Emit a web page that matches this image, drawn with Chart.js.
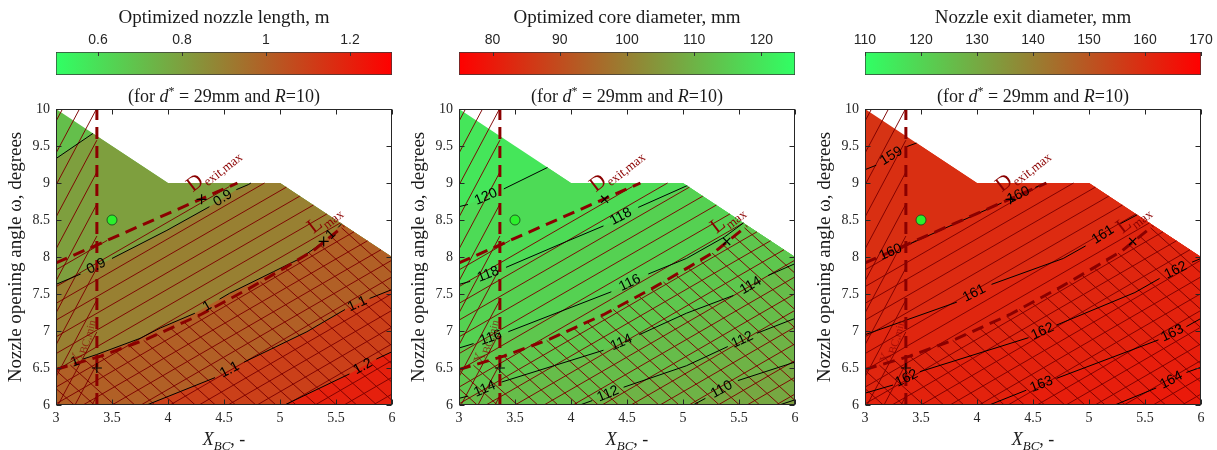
<!DOCTYPE html>
<html>
<head>
<meta charset="utf-8">
<script src="https://cdn.jsdelivr.net/npm/chart.js@4.4.1/dist/chart.umd.min.js"></script>
<style>
html,body{margin:0;padding:0;background:#fff;}
#page{position:relative;width:1217px;height:450px;overflow:hidden;}
#page canvas{position:absolute;}
.t{position:absolute;white-space:nowrap;color:#1a1a1a;font-family:"Liberation Serif",serif;text-align:center;font-size:18px;line-height:20px;}
</style>
</head>
<body>
<div id="page"></div>
<script>
// ================= DATA =================
const xTickValues = [3, 3.5, 4, 4.5, 5, 5.5, 6];
const yTickValues = [6, 6.5, 7, 7.5, 8, 8.5, 9, 9.5, 10];

// feasible design region (X_BC, omega)
const feasibleBoundary = [[3,6],[3,10],[4,9],[5,9],[6,8],[6,6]];
// constraint lines
const dExitMaxLine = [[3,7.92],[4.62,9.0]];
const lMaxLine = [[3,6.48],[3.4,6.66],[3.81,6.89],[4.29,7.22],[4.73,7.58],[5.06,7.87],[5.30,8.09],[5.57,8.42]];
const xbcMinLine = [[3.365,6],[3.365,10]];
// markers
const designPoint = [[3.5,8.5]];
const dExitOptimum = [[4.30,8.78]];
const lMaxOptimum = [[5.39,8.21]];
const xbcOptimum = [[3.365,6.5]];

// ---- panel 1: optimized nozzle length, m ----
const lengthTicks = [0.6, 0.8, 1, 1.2];
const lengthLevels = [0.8, 0.9, 1, 1.1, 1.2];
const length_c08 = [[3,9.33],[3.33,9.67]];
const length_c09 = [[3,7.63],[3.22,7.77],null,[3.50,7.98],[3.99,8.36],[4.37,8.68],null,[4.61,8.91],[4.72,8.98],[4.74,9.0]];
const length_c10 = [[3,6.49],[3.1,6.54],null,[3.24,6.62],[3.36,6.68],[3.75,6.90],[3.93,7.04],[4.24,7.24],null,[4.46,7.43],[4.55,7.51],[4.94,7.80],[5.18,7.98],[5.32,8.13],[5.39,8.21],null,[5.52,8.40],[5.55,8.45]];
const length_c11 = [[3.81,6.0],[4.42,6.37],null,[4.68,6.58],[5.24,6.99],[5.58,7.29],null,[5.80,7.44],[6,7.56]];
const length_c12 = [[5.04,6.0],[5.62,6.42],null,[5.86,6.62],[6,6.72]];

// ---- panel 2: optimized core diameter, mm ----
const coreTicks = [80, 90, 100, 110, 120];
const coreLevels = [120, 118, 116, 114, 112, 110, 108];
const core_c120 = [[3,8.68],[3.08,8.71],null,[3.40,8.92],[3.79,9.21]];
const core_c118 = [[3,7.63],[3.10,7.67],null,[3.42,7.86],[3.96,8.21],[4.29,8.42],null,[4.60,8.67],[5.03,8.96],[5.04,8.96]];
const core_c116 = [[3,6.77],[3.13,6.83],null,[3.44,6.99],[4.36,7.53],null,[4.69,7.77],[5.03,7.98],[5.37,8.27],[5.54,8.46]];
const core_c114 = [[3,6.09],[3.08,6.12],null,[3.38,6.31],[4.29,6.74],null,[4.61,6.95],[5.03,7.24],[5.45,7.48],null,[5.76,7.75],[6,7.91]];
const core_c112 = [[4.08,6.0],[4.19,6.06],null,[4.47,6.24],[5.03,6.53],[5.40,6.79],null,[5.66,6.97],[6,7.17]];
const core_c110 = [[5.09,6.0],[5.20,6.09],null,[5.49,6.33],[6,6.58]];
const core_c108 = [[5.86,6.0],[6,6.07]];

// ---- panel 3: nozzle exit diameter, mm ----
const exitTicks = [110, 120, 130, 140, 150, 160, 170];
const exitLevels = [159, 160, 161, 162, 163, 164];
const exit_c159 = [[3,9.18],[3.10,9.24],null,[3.37,9.49],[3.46,9.54]];
const exit_c160 = [[3,7.92],[3.10,7.98],null,[3.36,8.15],[4.22,8.73],null,[4.52,8.94],[4.61,9.0]];
const exit_c161 = [[3,6.95],[3.82,7.39],null,[4.13,7.63],[4.77,7.98],[4.97,8.15],null,[5.28,8.45],[5.43,8.57]];
const exit_c162 = [[3,6.16],[3.25,6.27],null,[3.49,6.45],[4.46,6.91],null,[4.71,7.08],[5.41,7.52],[5.63,7.71],null,[5.92,7.93],[6,7.98]];
const exit_c163 = [[4.11,6.0],[4.44,6.20],null,[4.71,6.36],[5.62,6.88],null,[5.87,7.06],[6,7.17]];
const exit_c164 = [[5.23,6.0],[5.60,6.23],null,[5.87,6.44],[6,6.51]];

// ================= STYLE / LAYOUT =================
const GREEN = [48,255,100], RED = [255,0,0];
const SX = 112, SY = 74;           // plot pixels per data unit (336x296 plot area)
const HATCH = 'rgba(125,0,0,0.95)';
const CONSTR = '#8b0000';
const SERIF = '"Liberation Serif", "Times New Roman", serif';
const SANS = '"Liberation Sans", Arial, sans-serif';

const panels = [
  {key:'len', left:0, width:410, rightPad:18, cbMin:0.5, cbMax:1.3, cbTicks:lengthTicks,
   lowColor:GREEN, highColor:RED, cbTitle:'Optimized nozzle length, m',
   levels:lengthLevels, contours:[length_c08,length_c09,length_c10,length_c11,length_c12],
   increasing:true, step:0.1, lmaxMarker:'cross', dexMarker:'cross'},
  {key:'core', left:403, width:410, rightPad:18, cbMin:75, cbMax:125, cbTicks:coreTicks,
   lowColor:RED, highColor:GREEN, cbTitle:'Optimized core diameter, mm',
   levels:coreLevels, contours:[core_c120,core_c118,core_c116,core_c114,core_c112,core_c110,core_c108],
   increasing:false, step:2, lmaxMarker:'crossRot', dexMarker:'crossRot'},
  {key:'exit', left:809, width:408, rightPad:16, cbMin:110, cbMax:170, cbTicks:exitTicks,
   lowColor:GREEN, highColor:RED, cbTitle:'Nozzle exit diameter, mm',
   levels:exitLevels, contours:[exit_c159,exit_c160,exit_c161,exit_c162,exit_c163,exit_c164],
   increasing:true, step:1, lmaxMarker:'crossRot', dexMarker:'cross'}
];

const constraintLabels = [
  {at:[4.22,8.87], main:'D', sub:'exit,max', angle:-38, size:21, subSize:13, color:CONSTR},
  {at:[5.30,8.31], main:'L', sub:'max', angle:-38, size:21, subSize:13, color:CONSTR},
  {at:[3.21,6.55], main:'X', sub:'BC,min', angle:-74, size:15, subSize:11, color:'rgba(139,0,0,0.7)'}
];

// ================= HELPERS =================
function mix(a, b, t) {
  t = Math.max(0, Math.min(1, t));
  return 'rgb(' + a.map((v, i) => Math.round(v + (b[i] - v) * t)).join(',') + ')';
}
function toXY(arr) { return arr.map(p => p ? {x:p[0], y:p[1]} : {x:null, y:null}); }
function ringParam(p) {
  const R = feasibleBoundary, n = R.length;
  let best = 1e9, par = 0;
  for (let i = 0; i < n; i++) {
    const a = R[i], b = R[(i + 1) % n];
    const vx = b[0] - a[0], vy = b[1] - a[1];
    let t = ((p[0] - a[0]) * vx + (p[1] - a[1]) * vy) / (vx * vx + vy * vy);
    t = Math.max(0, Math.min(1, t));
    const d = Math.hypot(a[0] + t * vx - p[0], a[1] + t * vy - p[1]);
    if (d < best) { best = d; par = i + t; }
  }
  return par;
}
// close a contour (start & end on the region boundary) along the boundary, clockwise
function closeAlongBoundary(pts) {
  const R = feasibleBoundary, n = R.length;
  const s = ringParam(pts[0]), e = ringParam(pts[pts.length - 1]);
  const fwd = (a, b) => ((b - a) % n + n) % n;
  const total = fwd(e, s);
  const out = pts.slice();
  for (let j = 0; j < n; j++) {
    const vi = (Math.floor(e) + 1 + j) % n;
    if (fwd(e, vi) < total) out.push(R[vi]); else break;
  }
  return out;
}
function hatchLines(poly, angleDeg, spacing) {
  const P = poly.map(([x, y]) => [x * SX, y * SY]);
  const a = angleDeg * Math.PI / 180;
  const dx = Math.cos(a), dy = Math.sin(a), nx = -dy, ny = dx;
  const proj = p => p[0] * nx + p[1] * ny;
  const ds = P.map(proj);
  const dmin = Math.min(...ds), dmax = Math.max(...ds);
  const out = [];
  for (let d = Math.ceil(dmin / spacing) * spacing; d <= dmax; d += spacing) {
    const ts = [];
    for (let i = 0; i < P.length; i++) {
      const p = P[i], q = P[(i + 1) % P.length];
      const fp = proj(p) - d, fq = proj(q) - d;
      if ((fp < 0) !== (fq < 0)) {
        const f = fp / (fp - fq);
        const ix = p[0] + f * (q[0] - p[0]), iy = p[1] + f * (q[1] - p[1]);
        ts.push(ix * dx + iy * dy);
      }
    }
    ts.sort((u, v) => u - v);
    for (let k = 0; k + 1 < ts.length; k += 2) {
      for (const t of [ts[k], ts[k + 1]]) out.push([(d * nx + t * dx) / SX, (d * ny + t * dy) / SY]);
      out.push(null);
    }
  }
  return out;
}
const fmt = v => String(+(+v).toFixed(3));

// ================= BUILD =================
const page = document.getElementById('page');
function addCanvas(left, top, w, h) {
  const c = document.createElement('canvas');
  c.width = w; c.height = h;
  c.style.left = left + 'px'; c.style.top = top + 'px';
  c.style.width = w + 'px'; c.style.height = h + 'px';
  page.appendChild(c);
  return c;
}
function addText(html, left, top, width, extraStyle) {
  const d = document.createElement('div');
  d.className = 't';
  d.style.left = left + 'px'; d.style.top = top + 'px'; d.style.width = width + 'px';
  if (extraStyle) d.style.cssText += extraStyle;
  d.innerHTML = html;
  page.appendChild(d);
}

const xbcRegion = [[3,6],[3,10],[xbcMinLine[1][0],10],[xbcMinLine[0][0],6]];
const dExitRegion = closeAlongBoundary(dExitMaxLine);
const lMaxRegion = closeAlongBoundary(lMaxLine);
const hatchSteep = hatchLines(xbcRegion, 62, 15);
const hatchUp = hatchLines(dExitRegion, 30, 14.5);
const hatchDown = hatchLines(lMaxRegion, -42, 13.5);

panels.forEach(P => {
  const colorOf = v => mix(P.lowColor, P.highColor, (v - P.cbMin) / (P.cbMax - P.cbMin));
  const areaLeft = P.left + 56, areaW = 336;

  // ---------- colorbar ----------
  const cbCanvas = addCanvas(P.left, 0, P.width, 80);
  new Chart(cbCanvas, {
    type: 'bar',
    data: {
      labels: [P.cbTitle],
      datasets: [{
        data: [[P.cbMin, P.cbMax]],
        backgroundColor: (c) => {
          const ca = c.chart.chartArea;
          if (!ca) return 'rgba(0,0,0,0)';
          const g = c.chart.ctx.createLinearGradient(ca.left, 0, ca.right, 0);
          g.addColorStop(0, mix(P.lowColor, P.highColor, 0));
          g.addColorStop(1, mix(P.lowColor, P.highColor, 1));
          return g;
        },
        borderColor: '#3a3a3a', borderWidth: 1, borderSkipped: false,
        barPercentage: 1, categoryPercentage: 1
      }]
    },
    options: {
      indexAxis: 'y', responsive: false, animation: false, events: [],
      layout: {padding: {left: 56, right: P.rightPad, top: 0, bottom: 5}},
      plugins: {legend: {display: false}, tooltip: {enabled: false}},
      scales: {
        x: {
          type: 'linear', position: 'top', min: P.cbMin, max: P.cbMax,
          afterBuildTicks: s => { s.ticks = P.cbTicks.map(v => ({value: v})); },
          afterFit: s => { s.height = 52; },
          grid: {display: false, drawTicks: false}, border: {display: false},
          ticks: {padding: 3, color: '#262626', font: {family: SANS, size: 14}, callback: fmt, maxRotation: 0, autoSkip: false},
          title: {display: true, text: P.cbTitle, color: '#1a1a1a', font: {family: SERIF, size: 19}, padding: {top: 7, bottom: 0}}
        },
        y: {display: false}
      }
    },
    plugins: [{
      id: 'cbticks',
      afterDraw(chart) {
        const {ctx, chartArea: a, scales: {x}} = chart;
        ctx.save();
        ctx.strokeStyle = '#333'; ctx.lineWidth = 1;
        P.cbTicks.forEach(v => {
          const px = Math.round(x.getPixelForValue(v)) + 0.5;
          ctx.beginPath(); ctx.moveTo(px, a.top); ctx.lineTo(px, a.top + 4); ctx.stroke();
        });
        ctx.restore();
      }
    }]
  });

  // ---------- main plot ----------
  const ds = [];
  const baseColor = P.increasing ? colorOf(P.levels[0] - P.step) : colorOf(P.levels[0]);
  ds.push({data: toXY(feasibleBoundary), fill: 'shape', backgroundColor: baseColor, borderWidth: 0, pointRadius: 0, order: 200});
  P.contours.forEach((c, i) => {
    const lvl = P.levels[i];
    const col = P.increasing ? colorOf(lvl) : colorOf(lvl - P.step);
    ds.push({data: toXY(closeAlongBoundary(c.filter(Boolean))), fill: 'shape', backgroundColor: col,
             borderWidth: 0, pointRadius: 0, order: 190 - i});
  });
  [hatchSteep, hatchUp, hatchDown].forEach(h => ds.push({data: toXY(h), borderColor: HATCH, borderWidth: 1,
             pointRadius: 0, fill: false, spanGaps: false, order: 100}));
  P.contours.forEach(c => ds.push({data: toXY(c), borderColor: '#000', borderWidth: 1, pointRadius: 0,
             fill: false, spanGaps: false, order: 90}));
  [dExitMaxLine, lMaxLine, xbcMinLine].forEach(l => ds.push({data: toXY(l), borderColor: CONSTR, borderWidth: 3,
             borderDash: [12, 7], pointRadius: 0, fill: false, order: 80}));
  [[dExitOptimum, P.dexMarker], [lMaxOptimum, P.lmaxMarker], [xbcOptimum, 'cross']].forEach(([m, st]) =>
    ds.push({data: toXY(m), showLine: false, pointStyle: st, pointRadius: 5, borderColor: '#000',
             pointBorderWidth: 1.2, backgroundColor: '#000', order: 70}));
  ds.push({data: toXY(designPoint), showLine: false, pointStyle: 'circle', pointRadius: 5,
           backgroundColor: '#2cf02c', borderColor: '#1b3b1b', pointBorderWidth: 0.8, order: 60});

  const mainCanvas = addCanvas(P.left, 80, P.width, 370);
  new Chart(mainCanvas, {
    type: 'line',
    data: {datasets: ds},
    options: {
      responsive: false, animation: false, events: [],
      layout: {padding: {left: 0, right: P.rightPad, top: 29, bottom: 0}},
      plugins: {legend: {display: false}, tooltip: {enabled: false}},
      elements: {line: {tension: 0}},
      scales: {
        x: {
          type: 'linear', min: 3, max: 6,
          afterBuildTicks: s => { s.ticks = xTickValues.map(v => ({value: v})); },
          afterFit: s => { s.height = 45; },
          grid: {display: false, drawTicks: false}, border: {display: false},
          ticks: {padding: 5, color: '#262626', font: {family: SERIF, size: 14}, callback: fmt, maxRotation: 0, autoSkip: false}
        },
        y: {
          type: 'linear', min: 6, max: 10,
          afterBuildTicks: s => { s.ticks = yTickValues.map(v => ({value: v})); },
          afterFit: s => { s.width = 56; },
          grid: {display: false, drawTicks: false}, border: {display: false},
          ticks: {padding: 6, color: '#262626', font: {family: SERIF, size: 14}, callback: fmt, autoSkip: false},
          title: {display: true, text: 'Nozzle opening angle ω, degrees', color: '#1a1a1a',
                  font: {family: SERIF, size: 19}, padding: {top: 5, bottom: 0}}
        }
      }
    },
    plugins: [{
      id: 'deco',
      afterDatasetsDraw(chart) {
        const {ctx, chartArea: a, scales: {x, y}} = chart;
        ctx.save();
        ctx.beginPath(); ctx.rect(a.left, a.top, a.right - a.left, a.bottom - a.top); ctx.clip();
        // contour labels
        ctx.font = '14px ' + SANS; ctx.fillStyle = '#000'; ctx.textAlign = 'center'; ctx.textBaseline = 'middle';
        P.contours.forEach((c, ci) => {
          const txt = fmt(P.levels[ci]);
          for (let i = 1; i < c.length - 1; i++) {
            if (c[i] !== null) continue;
            const p = c[i - 1], q = c[i + 1];
            const x1 = x.getPixelForValue(p[0]), y1 = y.getPixelForValue(p[1]);
            const x2 = x.getPixelForValue(q[0]), y2 = y.getPixelForValue(q[1]);
            ctx.save();
            ctx.translate((x1 + x2) / 2, (y1 + y2) / 2);
            ctx.rotate(Math.atan2(y2 - y1, x2 - x1));
            ctx.fillText(txt, 0, 0);
            ctx.restore();
          }
        });
        // constraint labels
        constraintLabels.forEach(L => {
          ctx.save();
          ctx.translate(x.getPixelForValue(L.at[0]), y.getPixelForValue(L.at[1]));
          ctx.rotate(L.angle * Math.PI / 180);
          ctx.fillStyle = L.color; ctx.textAlign = 'left'; ctx.textBaseline = 'alphabetic';
          ctx.font = L.size + 'px ' + SERIF;
          ctx.fillText(L.main, 0, 0);
          const w = ctx.measureText(L.main).width;
          ctx.font = L.subSize + 'px ' + SERIF;
          ctx.fillText(L.sub, w + 0.5, L.subSize * 0.35);
          ctx.restore();
        });
        ctx.restore();
      },
      afterDraw(chart) {
        const {ctx, chartArea: a, scales: {x, y}} = chart;
        ctx.save();
        ctx.strokeStyle = '#262626'; ctx.lineWidth = 1;
        const L = Math.round(a.left) + 0.5, R = Math.round(a.right) - 0.5;
        const T = Math.round(a.top) + 0.5, B = Math.round(a.bottom) - 0.5;
        ctx.strokeRect(L, T, R - L, B - T);
        ctx.beginPath();
        xTickValues.forEach(v => {
          const px = Math.round(x.getPixelForValue(v)) + 0.5;
          ctx.moveTo(px, B); ctx.lineTo(px, B - 5);
          ctx.moveTo(px, T); ctx.lineTo(px, T + 5);
        });
        yTickValues.forEach(v => {
          const py = Math.round(y.getPixelForValue(v)) + 0.5;
          ctx.moveTo(L, py); ctx.lineTo(L + 5, py);
          ctx.moveTo(R, py); ctx.lineTo(R - 5, py);
        });
        ctx.stroke();
        ctx.restore();
      }
    }]
  });

  // ---------- html text with math formatting ----------
  addText('(for <i>d</i><sup style="font-size:12px;line-height:0">*</sup> = 29mm and <i>R</i>=10)', areaLeft, 86, areaW);
  addText('<i>X</i><sub style="font-size:13px;line-height:0"><i>BC</i></sub>, -', areaLeft, 429, areaW);
});
</script>
</body>
</html>
